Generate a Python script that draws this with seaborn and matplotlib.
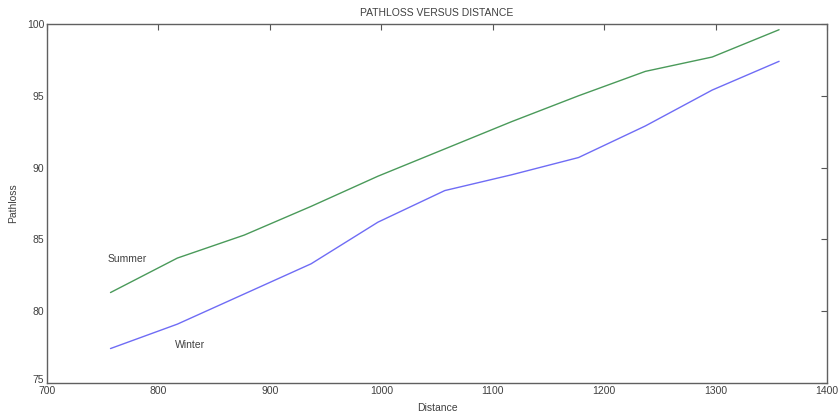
import pandas as pd
import seaborn as sns
import matplotlib.pyplot as plt
import matplotlib.transforms as mtransforms

# ============ Data ============
distance = [757, 817, 877, 937, 997, 1057, 1117, 1177, 1237, 1297, 1357]
summer = [81.3, 83.7, 85.3, 87.3, 89.4, 91.3, 93.2, 95.0, 96.7, 97.7, 99.6]
winter = [77.4, 79.1, 81.2, 83.3, 86.2, 88.4, 89.5, 90.7, 92.9, 95.4, 97.4]

df = pd.DataFrame({
    'Distance': distance * 2,
    'Pathloss': summer + winter,
    'Season': ['Summer'] * len(summer) + ['Winter'] * len(winter),
})

# ============ Style ============
sns.set_style("white")
plt.rcParams['font.family'] = ['Liberation Sans', 'DejaVu Sans']
plt.rcParams['font.size'] = 7.5
text_col = '#404040'

fig = plt.figure(figsize=(8.39, 4.17), dpi=100)
ax = fig.add_axes([0.056, 0.0815, 0.9297, 0.861])

sns.lineplot(data=df, x='Distance', y='Pathloss', hue='Season',
             palette={'Summer': '#4a9a5a', 'Winter': '#6f6cf5'},
             linewidth=1.0, legend=False, ax=ax)

# ============ Axes ============
ax.set_xlim(700, 1400)
ax.set_ylim(75, 100)
ax.set_xticks(range(700, 1401, 100))
ax.set_yticks(range(75, 101, 5))
ax.tick_params(direction='in', length=4, width=0.8, top=True, right=True,
               labelsize=7.5, colors='#555555', labelcolor=text_col, pad=2)
for s in ax.spines.values():
    s.set_color('#606060')
    s.set_linewidth(1.0)

# lift the "75" label a touch so it sits clear of "700", as in the original
lbl = ax.get_yticklabels()[0]
lbl.set_transform(lbl.get_transform() +
                  mtransforms.ScaledTranslation(0, 3 / 72, fig.dpi_scale_trans))

ax.set_title("PATHLOSS VERSUS DISTANCE", fontsize=7.5, color=text_col, pad=6)
ax.set_xlabel("Distance", fontsize=7.5, color=text_col, labelpad=5)
ax.set_ylabel("Pathloss", fontsize=7.5, color=text_col, labelpad=6)

# ============ Labels ============
ax.text(754, 83.3, "Summer", fontsize=7.5, color=text_col, va='bottom')
ax.text(815, 77.3, "Winter", fontsize=7.5, color=text_col, va='bottom')

fig.savefig("out.png", dpi=100)
